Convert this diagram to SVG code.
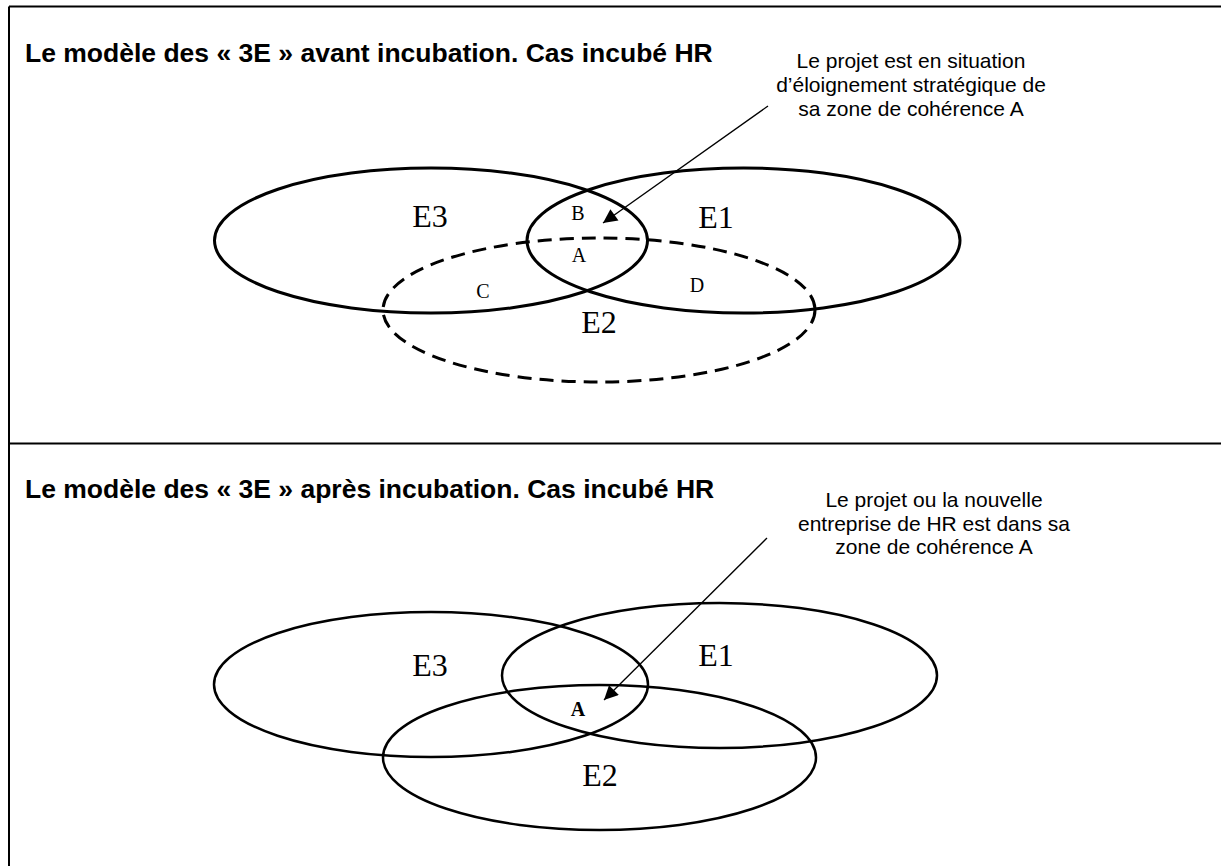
<svg xmlns="http://www.w3.org/2000/svg" width="1221" height="866" viewBox="0 0 1221 866">
<style>
.frame{stroke:#000;stroke-width:2;fill:none}
.ell{fill:none;stroke:#000;stroke-width:3}
.ell2{fill:none;stroke:#000;stroke-width:2.5}
.dash{stroke-dasharray:14 8}
.title{font-family:"Liberation Sans",Arial,sans-serif;font-weight:bold;font-size:26.5px;fill:#000}
.note{font-family:"Liberation Sans",Arial,sans-serif;font-size:21px;fill:#000;text-anchor:middle}
.big{font-family:"Liberation Serif","Times New Roman",serif;font-size:32px;fill:#000;text-anchor:middle}
.small{font-family:"Liberation Serif","Times New Roman",serif;font-size:20px;fill:#000;text-anchor:middle}
.arrow{stroke:#000;stroke-width:1.3;fill:none;marker-end:url(#ah)}
</style>
<defs>
<marker id="ah" viewBox="0 0 10 10" refX="10" refY="5" markerWidth="18" markerHeight="14" markerUnits="userSpaceOnUse" orient="auto">
<path d="M0,0 L10,5 L0,10 z" fill="#000"/>
</marker>
</defs>
<rect width="1221" height="866" fill="#fff"/>
<g id="frame">
<line class="frame" x1="9" y1="6.5" x2="1221" y2="6.5"/>
<line class="frame" x1="9" y1="6.5" x2="9" y2="866"/>
<line class="frame" x1="9" y1="443.5" x2="1221" y2="443.5"/>
</g>
<g id="top-panel">
<text class="title" x="25" y="62">Le modèle des « 3E » avant incubation. Cas incubé HR</text>
<g id="top-note">
<text class="note" x="911" y="68">Le projet est en situation</text>
<text class="note" x="911" y="92">d’éloignement stratégique de</text>
<text class="note" x="911" y="115.5">sa zone de cohérence A</text>
</g>
<g id="top-E3"><ellipse class="ell" cx="431" cy="240.5" rx="216.5" ry="72.5"/><text class="big" x="430" y="227">E3</text></g>
<g id="top-E1"><ellipse class="ell" cx="743.5" cy="240.5" rx="216.5" ry="72.5"/><text class="big" x="716" y="228">E1</text></g>
<g id="top-E2"><ellipse class="ell dash" cx="599" cy="310" rx="216" ry="72"/><text class="big" x="599" y="333">E2</text></g>
<g id="top-zones">
<text class="small" x="578" y="220">B</text>
<text class="small" x="579" y="262">A</text>
<text class="small" x="483" y="298">C</text>
<text class="small" x="697" y="292">D</text>
</g>
</g>
<g id="bottom-panel">
<text class="title" x="25" y="498">Le modèle des « 3E » après incubation. Cas incubé HR</text>
<g id="bottom-note">
<text class="note" x="934" y="507">Le projet ou la nouvelle</text>
<text class="note" x="934" y="530.5">entreprise de HR est dans sa</text>
<text class="note" x="934" y="554">zone de cohérence A</text>
</g>
<g id="bot-E3"><ellipse class="ell2" cx="431" cy="684.5" rx="217" ry="72.5"/><text class="big" x="430" y="676">E3</text></g>
<g id="bot-E1"><ellipse class="ell2" cx="719.5" cy="675.5" rx="217.5" ry="72.5"/><text class="big" x="716" y="666">E1</text></g>
<g id="bot-E2"><ellipse class="ell2" cx="599.5" cy="757.5" rx="216.5" ry="72.5"/><text class="big" x="600" y="786">E2</text></g>
<g id="bot-zone"><text class="small" x="578" y="716" font-weight="bold" font-size="24">A</text></g>
</g>
<g id="connectors">
<line class="arrow" x1="768" y1="106" x2="603" y2="223"/>
<line class="arrow" x1="767" y1="538" x2="604" y2="700"/>
</g>
</svg>
